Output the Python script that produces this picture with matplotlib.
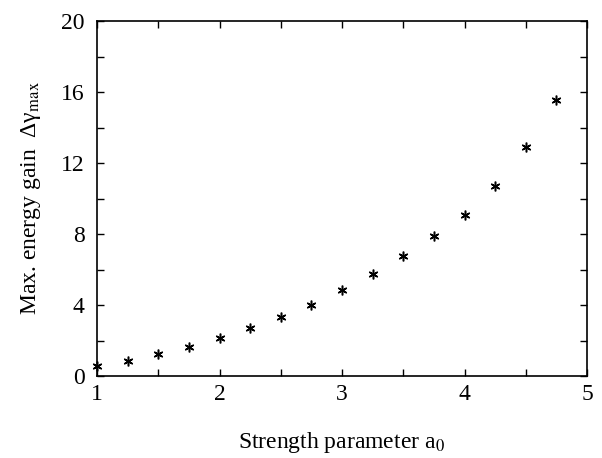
import matplotlib
matplotlib.use("Agg")
import matplotlib.pyplot as plt
from matplotlib.ticker import MultipleLocator

plt.rcParams['font.family'] = ['Liberation Serif', 'DejaVu Serif']
plt.rcParams['mathtext.fontset'] = 'stix'

a0 = [1.0, 1.25, 1.5, 1.75, 2.0, 2.25, 2.5, 2.75, 3.0, 3.25, 3.5, 3.75, 4.0, 4.25, 4.5, 4.75]
gain = [0.58, 0.86, 1.22, 1.66, 2.15, 2.69, 3.35, 4.01, 4.86, 5.73, 6.78, 7.87, 9.08, 10.7, 12.9, 15.55]

xticks = [1, 2, 3, 4, 5]
yticks = [0, 4, 8, 12, 16, 20]

fig = plt.figure(figsize=(6.02, 4.58), dpi=100)
ax = fig.add_axes([97/602, 1-376/458, (587-97)/602, (376-21)/458])

ax.plot(a0, gain, linestyle='none', marker=(6, 2, 0), markersize=7,
        markeredgewidth=1.1, color='black', clip_on=False)

ax.set_xlim(1, 5)
ax.set_ylim(0, 20)
ax.set_xticks(xticks)
ax.set_yticks(yticks)
ax.xaxis.set_minor_locator(MultipleLocator(0.5))
ax.yaxis.set_minor_locator(MultipleLocator(2))
ax.tick_params(which='both', direction='in', top=True, right=True,
               labelsize=17, width=1.0, length=5)
ax.tick_params(axis='x', pad=6)
ax.tick_params(axis='y', pad=9, labelright=False)
for s in ax.spines.values():
    s.set_linewidth(1.2)

ax.set_xlabel(r'Strength parameter a$_{\rm 0}$', fontsize=17, labelpad=18)
ax.set_ylabel('Max. energy gain  Δγ$_{\\rm max}$', fontsize=17, labelpad=13)

fig.savefig('out.png', dpi=100)
